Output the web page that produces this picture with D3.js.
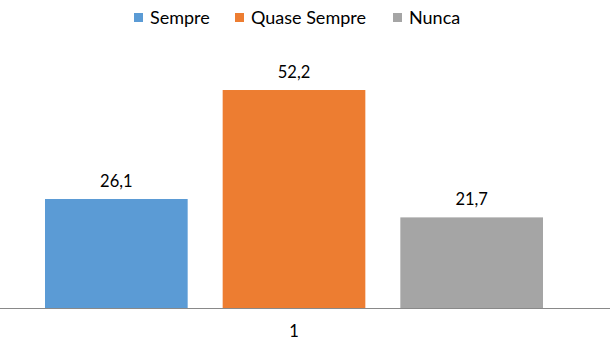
<!DOCTYPE html>
<html>
<head>
<meta charset="utf-8">
<script src="https://cdn.jsdelivr.net/npm/d3@7"></script>
<style>
  body { margin: 0; background: #fff; }
  text { font-family: "Lato", "Liberation Sans", sans-serif; fill: #000; }
</style>
</head>
<body>
<div id="chart"></div>
<script>
// chart data
const categories = ["1"];
const series = ["Sempre", "Quase Sempre", "Nunca"];
const values = [26.1, 52.2, 21.7];
const colors = ["#5B9BD5", "#ED7D31", "#A5A5A5"];

const width = 610;
const height = 352;
const baseY = 308;

let svg = d3.select('#chart')
    .append('svg')
    .attr('width', width)
    .attr('height', height);

// y scale: 52.2 reaches y=90
const y = d3.scaleLinear()
    .domain([0, 60])
    .range([baseY, baseY - 60 * 4.176]);

// one category, bars side by side
const xCat = d3.scaleBand()
    .domain(categories)
    .range([0, 588]);

const xSeries = d3.scaleBand()
    .domain(series)
    .range([45, 543])
    .paddingInner(0.197);

// bars
svg.selectAll('rect.bar')
    .data(series)
    .join('rect')
    .attr('class', 'bar')
    .attr('x', d => xSeries(d))
    .attr('y', (d, i) => y(values[i]))
    .attr('width', xSeries.bandwidth())
    .attr('height', (d, i) => baseY - y(values[i]))
    .attr('fill', (d, i) => colors[i]);

// value labels
svg.selectAll('text.val')
    .data(series)
    .join('text')
    .attr('class', 'val')
    .attr('x', d => xSeries(d) + xSeries.bandwidth() / 2)
    .attr('y', (d, i) => y(values[i]) - 12)
    .attr('text-anchor', 'middle')
    .attr('font-size', 16.5)
    .text((d, i) => String(values[i]).replace('.', ','));

// baseline
svg.append('line')
    .attr('x1', 0)
    .attr('x2', width)
    .attr('y1', baseY + 0.5)
    .attr('y2', baseY + 0.5)
    .attr('stroke', '#898989')
    .attr('stroke-width', 1);

// category label
svg.selectAll('text.cat')
    .data(categories)
    .join('text')
    .attr('class', 'cat')
    .attr('x', d => xCat(d) + xCat.bandwidth() / 2)
    .attr('y', 337)
    .attr('text-anchor', 'middle')
    .attr('font-size', 16.5)
    .text(d => d);

// legend
const legendX = [134, 235, 393];
let legend = svg.append('g');
let item = legend.selectAll('g')
    .data(series)
    .join('g')
    .attr('transform', (d, i) => `translate(${legendX[i]},13)`);

item.append('rect')
    .attr('width', 9)
    .attr('height', 9)
    .attr('fill', (d, i) => colors[i]);

item.append('text')
    .attr('x', 16)
    .attr('y', 10.5)
    .attr('font-size', 18)
    .text(d => d);
</script>
</body>
</html>
